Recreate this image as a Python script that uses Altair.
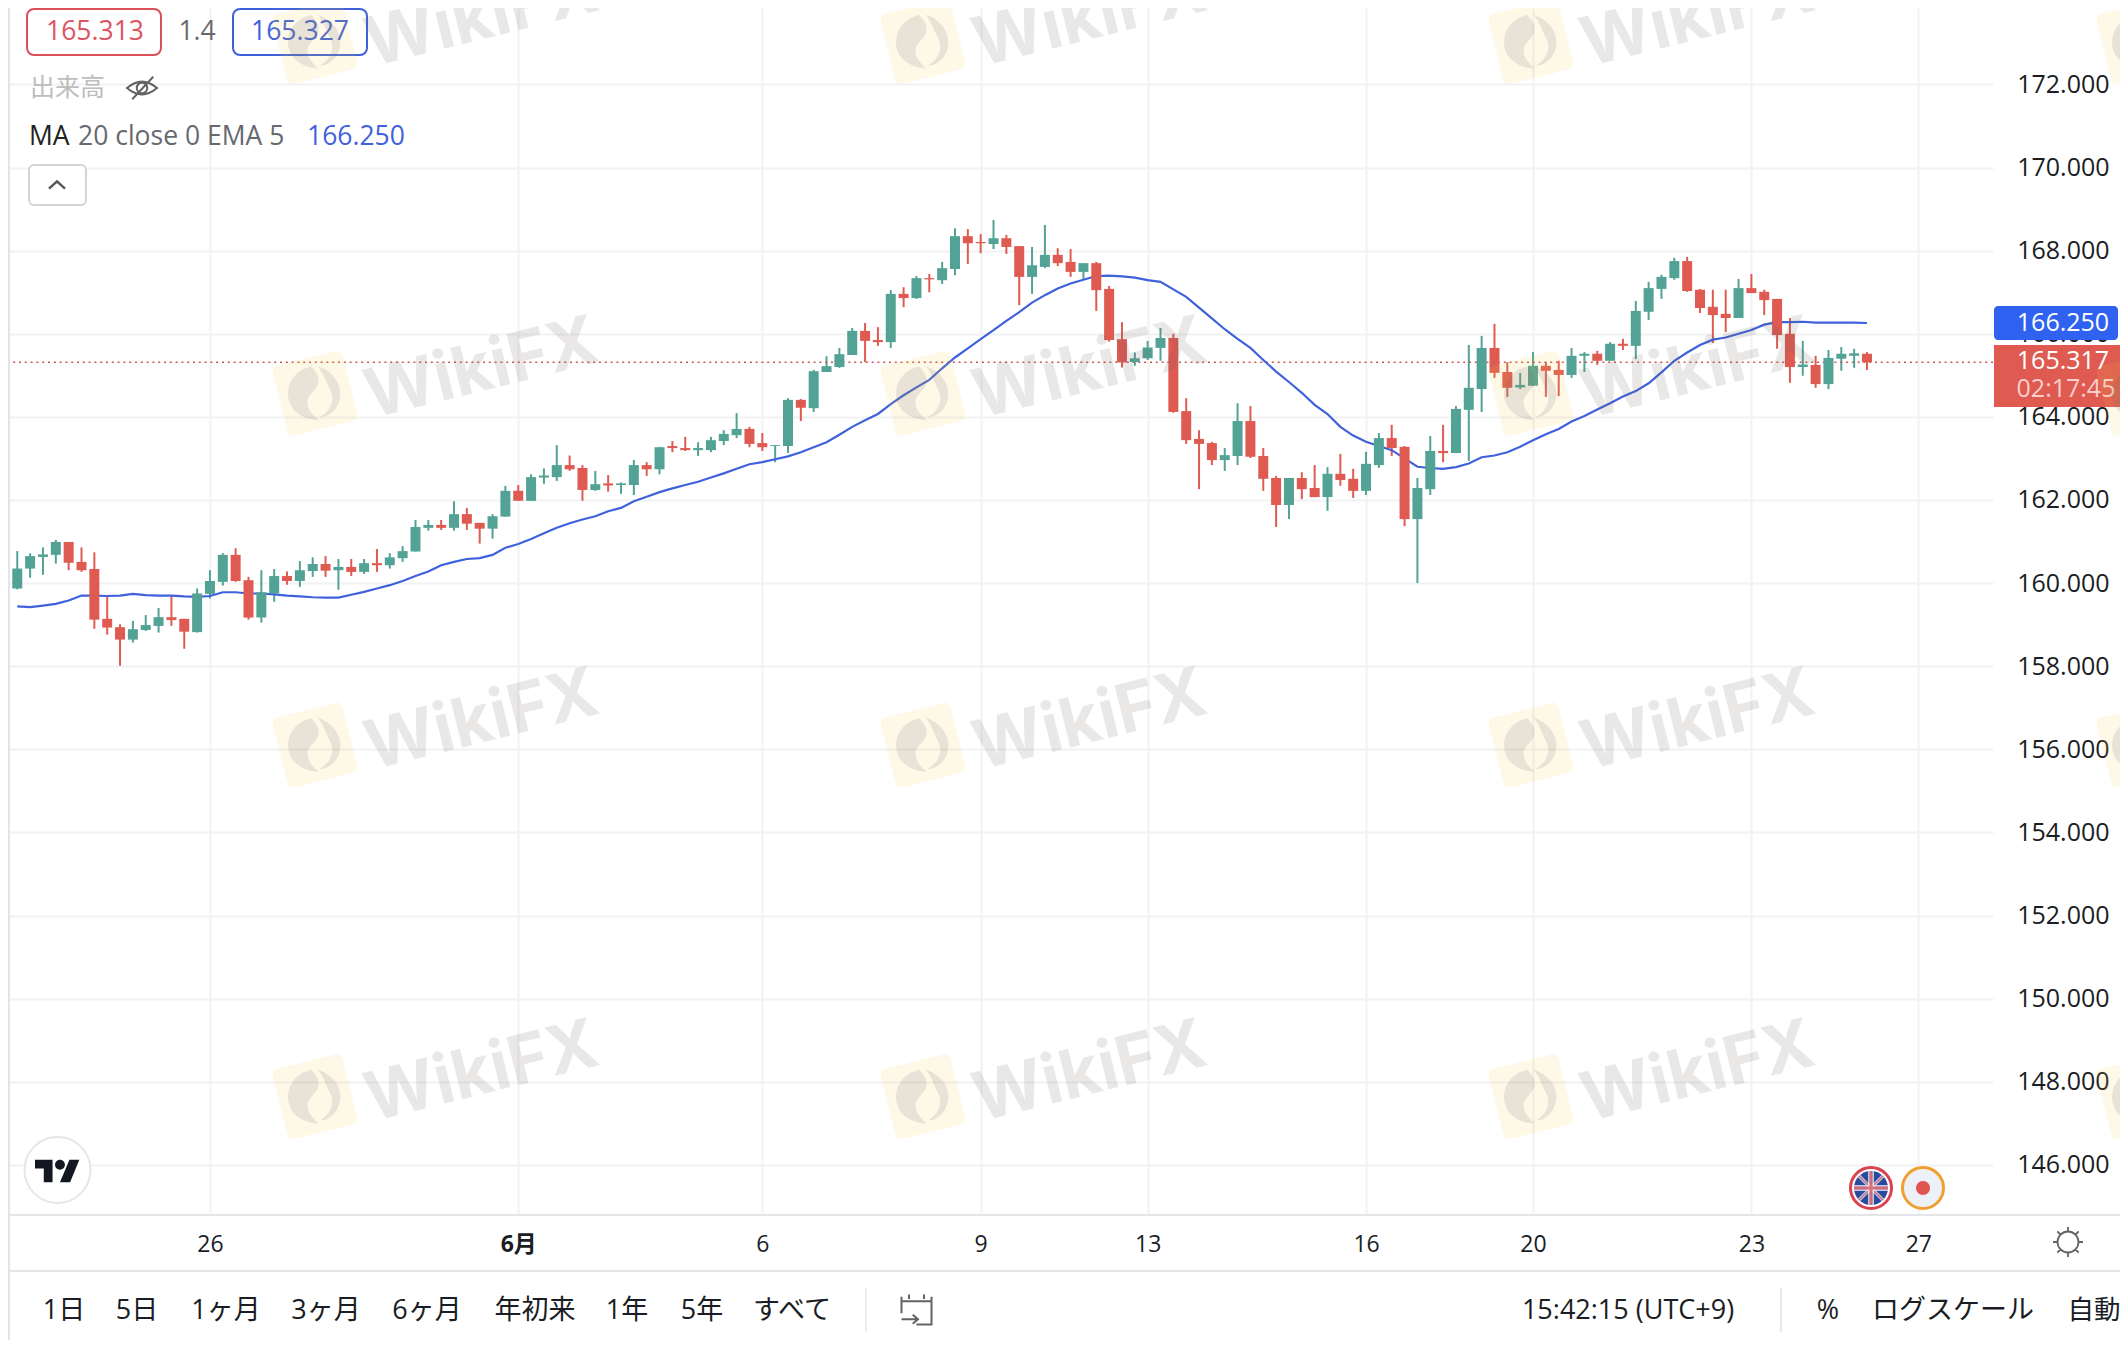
import altair as alt
import pandas as pd

opens = [159.87,160.35,160.63,160.68,160.99,160.51,160.34,159.14,158.94,158.64,
158.87,158.97,159.18,159.14,158.82,159.74,160.03,160.68,160.07,159.17,
159.75,160.17,160.05,160.29,160.46,160.31,160.39,160.27,160.48,160.43,
160.60,160.76,161.33,161.40,161.33,161.66,161.45,161.31,161.60,162.22,
161.98,162.54,162.55,162.84,162.77,162.24,162.40,162.36,162.36,162.84,
162.74,163.30,163.25,163.20,163.20,163.42,163.56,163.71,163.37,163.30,
163.30,164.41,164.21,165.08,165.20,165.49,166.07,165.85,165.80,166.96,
166.86,167.34,167.29,167.56,168.35,168.21,168.16,168.30,168.11,167.37,
167.61,167.90,167.73,167.49,167.70,167.08,165.87,165.32,165.41,165.66,
165.90,164.14,163.47,163.37,162.96,163.06,163.90,163.06,162.53,161.88,
162.53,162.29,162.07,162.63,162.51,162.22,162.84,163.49,163.28,161.54,
162.26,163.18,163.13,164.17,164.67,165.66,165.08,164.71,164.75,165.23,
165.13,165.01,165.47,165.52,165.35,165.76,165.71,166.53,167.08,167.34,
167.75,167.06,166.65,166.48,166.38,167.10,167.01,166.84,166.00,165.20,
165.25,164.79,165.40,165.47,165.52]
closes = [160.35,160.65,160.69,160.99,160.49,160.31,159.12,158.93,158.64,158.89,
158.99,159.18,159.11,158.83,159.75,160.05,160.68,160.05,159.17,159.78,
160.17,160.05,160.31,160.46,160.30,160.39,160.27,160.48,160.43,160.62,
160.77,161.35,161.40,161.33,161.66,161.43,161.31,161.61,162.22,161.98,
162.55,162.59,162.84,162.74,162.24,162.38,162.35,162.40,162.84,162.74,
163.27,163.25,163.20,163.25,163.44,163.59,163.71,163.35,163.27,163.32,
164.41,164.22,165.10,165.22,165.51,166.07,165.83,165.80,166.96,166.86,
167.34,167.31,167.58,168.35,168.18,168.18,168.30,168.09,167.37,167.65,
167.90,167.70,167.49,167.70,167.05,165.85,165.31,165.41,165.67,165.90,
164.12,163.44,163.35,162.96,163.08,163.90,163.04,162.51,161.88,162.53,
162.26,162.07,162.63,162.48,162.22,162.87,163.49,163.25,161.54,162.29,
163.18,163.13,164.19,164.70,165.66,165.06,164.70,164.77,165.23,165.11,
165.01,165.47,165.52,165.35,165.76,165.71,166.55,167.10,167.37,167.75,
167.03,166.62,166.45,166.38,167.10,166.98,166.81,165.97,165.20,165.26,
164.79,165.42,165.52,165.53,165.317]
highs = [160.77,160.72,160.86,161.04,160.99,160.86,160.74,159.67,159.01,159.09,
159.23,159.40,159.71,159.14,159.87,160.31,160.72,160.84,160.15,160.31,
160.34,160.28,160.53,160.62,160.65,160.58,160.58,160.58,160.82,160.72,
160.89,161.52,161.52,161.52,161.97,161.81,161.45,161.66,162.34,162.36,
162.62,162.76,163.32,163.07,162.84,162.70,162.60,162.42,162.96,162.91,
163.28,163.42,163.52,163.39,163.52,163.68,164.09,163.76,163.61,163.32,
164.45,164.43,165.13,165.46,165.66,166.14,166.26,166.16,167.05,167.12,
167.39,167.44,167.73,168.54,168.52,168.40,168.74,168.38,168.11,168.09,
168.62,168.06,168.04,167.70,167.73,167.15,166.28,165.55,165.83,166.14,
166.00,164.45,163.68,163.40,163.25,164.33,164.26,163.25,162.58,162.53,
162.67,162.84,162.79,163.11,162.75,163.16,163.61,163.81,163.30,162.53,
163.54,163.81,164.26,165.73,165.95,166.24,165.32,165.06,165.56,165.32,
165.35,165.66,165.56,165.59,165.80,165.88,166.79,167.25,167.42,167.83,
167.85,167.08,167.06,167.06,167.32,167.44,167.06,166.84,166.38,165.83,
165.47,165.61,165.68,165.64,165.56]
lows = [159.85,160.13,160.20,160.47,160.31,160.27,158.90,158.76,158.01,158.57,
158.85,158.81,158.97,158.42,158.81,159.63,159.94,160.03,159.12,159.05,
159.55,159.96,159.91,160.15,160.15,159.84,160.17,160.22,160.27,160.35,
160.51,160.76,161.26,161.28,161.26,161.28,160.95,161.07,161.60,161.98,
161.98,162.39,162.46,162.70,161.98,162.22,162.20,162.15,162.12,162.58,
162.62,163.15,163.18,163.06,163.15,163.32,163.49,163.27,163.18,162.91,
163.13,163.90,164.12,165.08,165.18,165.49,165.32,165.71,165.66,166.64,
166.84,167.00,167.20,167.41,167.68,167.94,168.04,167.92,166.69,166.96,
167.58,167.63,167.37,167.32,166.55,165.81,165.19,165.23,165.37,165.35,
164.10,163.35,162.26,162.84,162.70,162.84,163.01,162.22,161.35,161.54,
162.02,162.07,161.74,162.34,162.05,162.12,162.77,163.06,161.37,160.00,
162.12,162.91,163.13,162.94,164.12,164.94,164.48,164.67,164.75,164.48,
164.50,164.94,165.08,165.25,165.35,165.61,165.39,166.33,166.84,167.30,
167.01,166.50,165.78,166.04,166.38,166.98,166.45,165.64,164.82,164.99,
164.70,164.67,165.11,165.18,165.13]
ema = [159.44,159.42,159.46,159.50,159.58,159.70,159.70,159.69,159.70,159.74,
159.71,159.70,159.70,159.68,159.67,159.69,159.78,159.78,159.75,159.75,
159.73,159.70,159.68,159.66,159.65,159.65,159.72,159.79,159.87,159.95,
160.05,160.17,160.28,160.43,160.51,160.58,160.60,160.68,160.85,160.94,
161.06,161.20,161.33,161.44,161.53,161.61,161.73,161.81,161.97,162.08,
162.19,162.28,162.36,162.44,162.54,162.64,162.75,162.86,162.91,162.98,
163.05,163.15,163.27,163.39,163.57,163.76,163.92,164.07,164.31,164.52,
164.71,164.89,165.17,165.43,165.65,165.87,166.09,166.31,166.52,166.75,
166.93,167.09,167.21,167.30,167.39,167.40,167.38,167.35,167.29,167.25,
167.07,166.89,166.63,166.37,166.11,165.88,165.66,165.37,165.09,164.84,
164.58,164.29,164.07,163.76,163.55,163.40,163.30,163.20,163.00,162.80,
162.77,162.75,162.79,162.88,163.03,163.07,163.15,163.28,163.44,163.58,
163.71,163.89,164.02,164.18,164.33,164.49,164.62,164.81,165.07,165.35,
165.55,165.73,165.86,165.91,166.00,166.09,166.22,166.28,166.28,166.29,
166.27,166.27,166.27,166.27,166.26]
last_price = 165.317
price_ticks = [146, 148, 150, 152, 154, 156, 158, 160, 162, 164, 166, 168, 170, 172, 174]
date_ticks = [15, 39, 58, 75, 88, 105, 118, 135, 148]
date_labels = ["26", "6月", "6", "9", "13", "16", "20", "23", "27"]
range_buttons = [("1日", 64), ("5日", 137), ("1ヶ月", 226), ("3ヶ月", 326), ("6ヶ月", 427),
                 ("年初来", 535), ("1年", 627), ("5年", 702), ("すべて", 792)]

GREEN = "#52a395"
RED = "#df5b52"
BLUE = "#3f62dc"
INK = "#1a1d24"
FONT = "'Open Sans', 'Noto Sans CJK JP', sans-serif"
CIRCLE = "M1,0 A1,1 0 1 1 -1,0 A1,1 0 1 1 1,0 Z"

df = pd.DataFrame({"i": range(len(opens)), "open": opens, "close": closes,
                   "high": highs, "low": lows, "ema": ema})
df["dir"] = ["up" if c >= o else "down" for o, c in zip(opens, closes)]

x_scale = alt.Scale(domain=[-0.333, 153.42], nice=False, zero=False)
y_scale = alt.Scale(domain=[144.792, 173.841], nice=False, zero=False)
color = alt.Color("dir:N", scale=alt.Scale(domain=["up", "down"], range=[GREEN, RED]), legend=None)

label_expr = "[" + ",".join(f"'{s}'" for s in date_labels) + "][indexof([" + ",".join(map(str, date_ticks)) + "],datum.value)]"
x_axis = alt.Axis(values=date_ticks, labelExpr=label_expr, title=None, orient="bottom", domain=False,
                  ticks=False, labelPadding=29, labelBaseline="middle", labelFont=FONT, labelFontSize=23,
                  labelColor=INK, labelOverlap=False, labelFlush=False, grid=True, gridColor="#f1f2f4", gridWidth=2,
                  labelFontWeight=alt.condition("datum.value == 39", alt.value("bold"), alt.value("normal")))
y_axis = alt.Axis(values=price_ticks, format=".3f", title=None, orient="right", domain=False, ticks=False,
                  labelPadding=23.7, labelFont=FONT, labelFontSize=25, labelColor=INK, labelAlign="left",
                  labelOverlap=False, labelFlush=False, grid=True, gridColor="#f1f2f4", gridWidth=2)
x_enc = alt.X("i:Q", scale=x_scale, axis=x_axis)

base = alt.Chart(df)
dummy = pd.DataFrame({"a": [0]})

wicks = base.mark_rule(strokeWidth=2).encode(
    x=x_enc, y=alt.Y("low:Q", scale=y_scale, axis=y_axis), y2="high:Q", color=color)
dotted = alt.Chart(pd.DataFrame({"p": [last_price]})).mark_rule(color="#c9574f", strokeWidth=1.6, strokeDash=[2, 3.8]).encode(
    y=alt.Y("p:Q", scale=y_scale, axis=y_axis))
ma_line = base.mark_line(color=BLUE, strokeWidth=2.2, clip=True).encode(
    x=x_enc, y=alt.Y("ema:Q", scale=y_scale, axis=y_axis))
bodies = base.mark_bar(size=10, orient="vertical", clip=True).encode(
    x=x_enc, y=alt.Y("open:Q", scale=y_scale, axis=y_axis), y2="close:Q", color=color)


def txt(px, py, s, size=26.5, col=INK, align="center", weight="normal", angle=None, opacity=None, font=FONT):
    kw = {}
    if angle is not None:
        kw["angle"] = angle
    if opacity is not None:
        kw["opacity"] = opacity
    return alt.Chart(dummy).mark_text(text=s, font=font, fontSize=size, color=col, align=align,
                                      baseline="middle", fontWeight=weight, **kw).encode(
        x=alt.value(px - 8), y=alt.value(py - 8))


def box(x0, y0, x1, y1, fill="transparent", stroke=None, sw=2, r=0, **kw):
    args = dict(fill=fill, cornerRadius=r, **kw)
    if stroke:
        args.update(stroke=stroke, strokeWidth=sw)
    return alt.Chart(dummy).mark_rect(**args).encode(
        x=alt.value(x0 - 8), x2=alt.value(x1 - 8), y=alt.value(y0 - 8), y2=alt.value(y1 - 8))


def hline(x0, x1, y0, y1, col, w=2):
    return alt.Chart(dummy).mark_rule(color=col, strokeWidth=w).encode(
        x=alt.value(x0 - 8), x2=alt.value(x1 - 8), y=alt.value(y0 - 8), y2=alt.value(y1 - 8))


def glyph(px, py, path, R, fill=None, stroke=None, sw=2, angle=None, opacity=None):
    kw = {}
    if angle is not None:
        kw["angle"] = angle
    if opacity is not None:
        kw["opacity"] = opacity
    if fill:
        kw["fill"] = fill
        kw["filled"] = True
        kw["fillOpacity"] = 1
    else:
        kw["filled"] = False
    if stroke:
        kw["stroke"] = stroke
        kw["strokeWidth"] = sw
    else:
        kw["strokeWidth"] = 0
    return alt.Chart(dummy).mark_point(shape=path, size=(2 * R) ** 2, **kw).encode(
        x=alt.value(px - 8), y=alt.value(py - 8))


ui = [
    box(27, 9, 161, 55, stroke="#d9505a", sw=2, r=7),
    txt(95, 32, "165.313", col="#dc5560"),
    txt(197, 32, "1.4", col="#666a70"),
    box(233, 9, 367, 55, stroke=BLUE, sw=2, r=7),
    txt(300, 32, "165.327", col=BLUE),
    txt(30, 88, "出来高", size=25, col="#bdbdbd", align="left"),
    glyph(142, 88, "M-1,0 Q0,-0.85 1,0 Q0,0.85 -1,0 Z M0.35,0 A0.35,0.35 0 1 1 -0.35,0 A0.35,0.35 0 1 1 0.35,0 M-0.65,0.75 L0.75,-0.75",
          15, stroke="#222222", sw=2),
    txt(29, 137, "MA", col="#222222", align="left"),
    txt(78, 137, "20 close 0 EMA 5", col="#666a70", align="left"),
    txt(307, 137, "166.250", col=BLUE, align="left"),
    box(29, 165, 86, 205, fill="white", stroke="#d4d4d6", sw=2, r=5),
    glyph(57, 185, "M-1,0.45 L0,-0.45 L1,0.45", 8, stroke="#111111", sw=2.5),
    # right-hand price tags
    box(1994, 306, 2118, 340, fill="#2f62f0", r=4),
    txt(2063, 323, "166.250", size=25, col="white"),
    box(1994, 345, 2120, 407, fill=RED),
    txt(2063, 361, "165.317", size=25, col="white"),
    txt(2066, 389, "02:17:45", size=25, col="#f7d0cb"),
    # bottom lines and left band
    hline(10, 2120, 1215, 1215, "#e4e5e9"),
    hline(10, 2120, 1271, 1271, "#e4e5e9"),
    box(8, 8, 10, 1340, fill="#e2e4ea"),
    # TradingView badge
    glyph(57.5, 1170, CIRCLE, 33, fill="white", stroke="#e6e6e8", sw=2),
    glyph(57.5, 1171, "M-0.22,0.5 L-0.61,0.5 L-0.61,-0.11 L-1,-0.11 L-1,-0.5 L-0.22,-0.5 Z M0.56,0.5 L0.11,0.5 L0.53,-0.5 L0.97,-0.5 Z M0.33,-0.28 A0.22,0.22 0 1 1 -0.11,-0.28 A0.22,0.22 0 1 1 0.33,-0.28 Z",
          22.5, fill="#131722"),
    # currency flags
    glyph(1871, 1188, CIRCLE, 20.5, fill="white", stroke="#d9434f", sw=3),
    glyph(1871, 1188, CIRCLE, 17, fill="#2a4a9c"),
    glyph(1871, 1188, "M-0.72,-0.72 L0.72,0.72 M-0.72,0.72 L0.72,-0.72", 17, stroke="white", sw=3.4),
    glyph(1871, 1188, "M-0.72,-0.72 L0.72,0.72 M-0.72,0.72 L0.72,-0.72", 17, stroke="#d9434f", sw=1.2),
    glyph(1871, 1188, "M-1,0 L1,0 M0,-1 L0,1", 17, stroke="white", sw=6),
    glyph(1871, 1188, "M-1,0 L1,0 M0,-1 L0,1", 17, stroke="#d9434f", sw=3),
    glyph(1923, 1188, CIRCLE, 20.5, fill="#eef0f8", stroke="#f0a030", sw=3),
    glyph(1923, 1188, CIRCLE, 7, fill="#e0564f"),
    # sun, calendar
    glyph(2068, 1242, "M0.7,0 A0.7,0.7 0 1 1 -0.7,0 A0.7,0.7 0 1 1 0.7,0 M0,-1 L0,-0.7 M0,0.7 L0,1 M-1,0 L-0.7,0 M0.7,0 L1,0 M-0.71,-0.71 L-0.5,-0.5 M0.5,-0.5 L0.71,-0.71 M-0.71,0.71 L-0.5,0.5 M0.5,0.5 L0.71,0.71",
          15, stroke="#222222", sw=1.8),
    hline(866, 866, 1288, 1332, "#e9e9eb", 1.5),
    glyph(916.5, 1309.5, "M-1,-0.55 L1,-0.55 M-1,-0.85 L-1,0.25 M1,-0.85 L1,1 L0,1 M-0.5,-1 L-0.5,-0.7 M0.5,-1 L0.5,-0.7 M-1,0.65 L0.1,0.65 M-0.25,0.35 L0.1,0.65 L-0.25,0.95",
          15, stroke="#222222", sw=2),
    hline(1781, 1781, 1288, 1332, "#e2e2e4", 1.5),
    txt(1628, 1311, "15:42:15 (UTC+9)", size=27, col=INK),
    txt(1828, 1311, "%", size=27, col=INK),
    txt(1953, 1311, "ログスケール", size=27, col=INK),
    txt(2094, 1311, "自動", size=26.5, col=INK),
]
for label, cx in range_buttons:
    ui.append(txt(cx, 1311, label, size=27, col=INK))

EAGLE = ("M0.1,-1 C-0.7,-1 -1,-0.4 -1,0 C-1,0.5 -0.6,0.85 -0.1,1 C-0.4,0.6 -0.5,0.2 -0.1,-0.05 C0.25,-0.25 0.4,-0.5 0.1,-1 Z "
         "M0.35,-0.95 C0.9,-0.6 1.05,0 0.85,0.4 C0.7,0.75 0.3,1 -0.05,0.9 C0.5,0.75 0.7,0.3 0.55,-0.1 C0.5,-0.4 0.45,-0.7 0.35,-0.95 Z")
SQUARE = "M-0.82,-1 L0.82,-1 Q1,-1 1,-0.82 L1,0.82 Q1,1 0.82,1 L-0.82,1 Q-1,1 -1,0.82 L-1,-0.82 Q-1,-1 -0.82,-1 Z"
marks = []
for lx in [315, 923, 1531, 2139]:
    for ly in [41.8, 393.4, 745, 1096.6]:
        marks.append(glyph(lx, ly, SQUARE, 36, fill="#f6c63c", angle=346, opacity=0.12))
        marks.append(glyph(lx, ly, EAGLE, 27, fill="#6a6a78", angle=346, opacity=0.15))
        if lx < 2100:
            marks.append(txt(lx + 167, ly - 23, "WikiFX", size=68, col="#6e5f5f", weight="bold", angle=346, opacity=0.14,
                             font="Inter"))

chart = alt.layer(wicks, dotted, ma_line, bodies, *ui, *marks).properties(
    width=1985, height=1207, background="white",
    autosize=alt.AutoSizeParams(type="none"),
    padding={"left": 0, "top": 0, "right": 127, "bottom": 125},
).configure_view(stroke=None)

chart.save("out.html", embed_options={"renderer": "svg", "actions": False})
